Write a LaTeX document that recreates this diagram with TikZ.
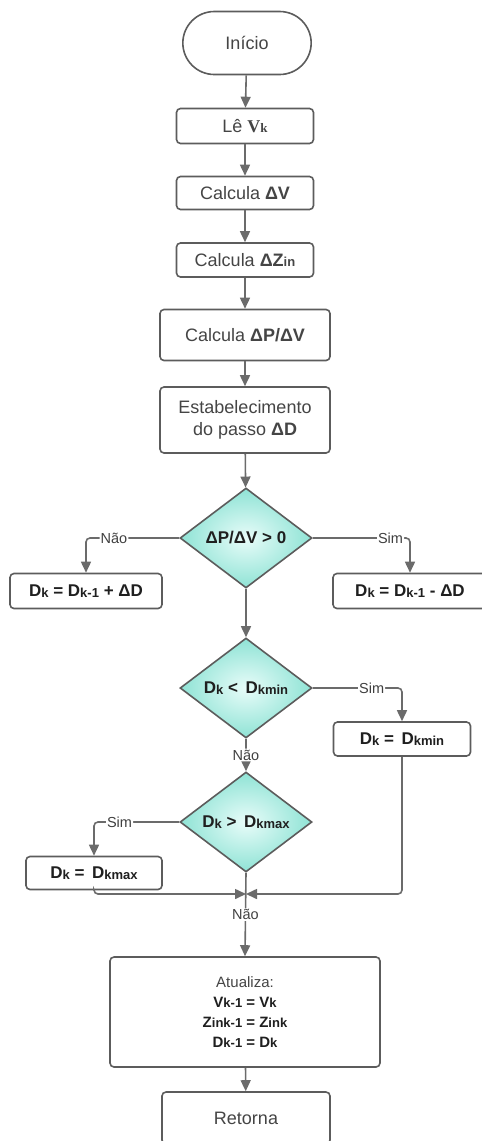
\documentclass[tikz,border=0pt]{standalone}
\usepackage{fontspec}
\setmainfont{Liberation Sans}
\newfontfamily\serifbf{Liberation Serif}
\usetikzlibrary{shapes.geometric,shapes.misc,arrows.meta}

\definecolor{linegray}{HTML}{6B6B6B}
\definecolor{boxgray}{HTML}{5C5C5C}
\definecolor{txtgray}{HTML}{454545}
\definecolor{aqua}{HTML}{8FE3D5}
\definecolor{aqualight}{HTML}{E8FCF9}

\newcommand{\ix}[1]{{\fontsize{13}{13}\selectfont\raisebox{-0.5pt}{#1}}}

\begin{document}
\begin{tikzpicture}[
    x=1pt, y=-1pt,
    box/.style={draw=boxgray, line width=1.6pt, rounded corners=4pt, fill=white, align=center,
        text=txtgray, font=\fontsize{18}{22}\selectfont, inner sep=2pt},
    calc/.style={box, font=\fontsize{17}{21}\selectfont\bfseries, text=black!88},
    term/.style={rounded rectangle, draw=boxgray, line width=1.6pt, fill=white,
        text=txtgray, font=\fontsize{18}{22}\selectfont},
    decide/.style={diamond, draw=boxgray, line width=1.6pt, shading=radial,
        inner color=aqualight, outer color=aqua, aspect=1.32, inner sep=0pt,
        minimum width=132pt, minimum height=100pt,
        font=\fontsize{17}{21}\selectfont\bfseries, text=black!88},
    arr/.style={-{Triangle[length=11pt,width=10pt]}, draw=linegray, line width=1.6pt, rounded corners=4pt},
    lbl/.style={fill=white, text=black!75, font=\fontsize{14.5}{15}\selectfont, inner sep=1pt}
]
    \useasboundingbox (0,0) rectangle (482,1141);

    \node[term, minimum width=135pt, minimum height=63pt] (start) at (247,43) {Início};
    \node[box, minimum width=137pt, minimum height=35pt] (read) at (245,126) {Lê {\serifbf\bfseries V\ix{k}}};
    \node[box, minimum width=137pt, minimum height=33pt] (dv) at (245,193) {Calcula \textbf{ΔV}};
    \node[box, minimum width=137pt, minimum height=34pt] (dz) at (245,260) {Calcula \textbf{ΔZ\ix{in}}};
    \node[box, minimum width=170pt, minimum height=51pt] (dpdv) at (245,335) {Calcula \textbf{ΔP/ΔV}};
    \node[box, minimum width=170pt, minimum height=66pt] (stepsz) at (245,420) {Estabelecimento\\do passo \textbf{ΔD}};

    \node[decide] (dec1) at (246,538) {ΔP/ΔV > 0};
    \node[calc, minimum width=152pt, minimum height=35pt] (inc) at (86,591) {D\ix{k} = D\ix{k-1} + ΔD};
    \node[calc, minimum width=154pt, minimum height=35pt] (dec) at (410,591) {D\ix{k} = D\ix{k-1} - ΔD};

    \node[decide] (dec2) at (246,688) {D\ix{k} <\, D\ix{kmin}};
    \node[calc, minimum width=137pt, minimum height=34pt] (kmin) at (402,739) {D\ix{k} =\, D\ix{kmin}};

    \node[decide] (dec3) at (246,822) {D\ix{k} >\, D\ix{kmax}};
    \node[calc, minimum width=136pt, minimum height=33pt] (kmax) at (94,873) {D\ix{k} =\, D\ix{kmax}};
    \coordinate (mrg) at (246,894);

    \node[box, minimum width=270pt, minimum height=110pt, font=\fontsize{15}{20}\selectfont] (upd) at (245,1012)
        {Atualiza:\\ \textbf{\color{black!88}V\ix{k-1} = V\ix{k}}\\ \textbf{\color{black!88}Z\ix{ink-1} = Z\ix{ink}}\\ \textbf{\color{black!88}D\ix{k-1} = D\ix{k}}};
    \node[box, minimum width=168pt, minimum height=52pt] (ret) at (246,1118) {Retorna};

    % main line
    \draw[arr] (start) -- (read);
    \draw[arr] (read) -- (dv);
    \draw[arr] (dv) -- (dz);
    \draw[arr] (dz) -- (dpdv);
    \draw[arr] (dpdv) -- (stepsz);
    \draw[arr] (stepsz) -- (dec1);

    % first decision
    \draw[arr] (dec1.west) -| node[lbl, pos=0.35] {Não} (inc.north);
    \draw[arr] (dec1.east) -| node[lbl, pos=0.4] {Sim} (dec.north);
    \draw[arr] (dec1.south) -- (dec2.north);

    % limits
    \draw[arr] (dec2.east) -| node[lbl, pos=0.33] {Sim} (kmin.north);
    \draw[arr] (dec2.south) -- node[lbl] {Não} (dec3.north);
    \draw[arr] (dec3.west) -| node[lbl, pos=0.35] {Sim} (kmax.north);
    \draw[arr] (kmax.south) |- (mrg);
    \draw[arr] (kmin.south) |- (mrg);

    \draw[arr] (dec3.south) -- node[lbl] {Não} (upd.north);
    \draw[arr] (upd) -- (ret);
\end{tikzpicture}
\end{document}
